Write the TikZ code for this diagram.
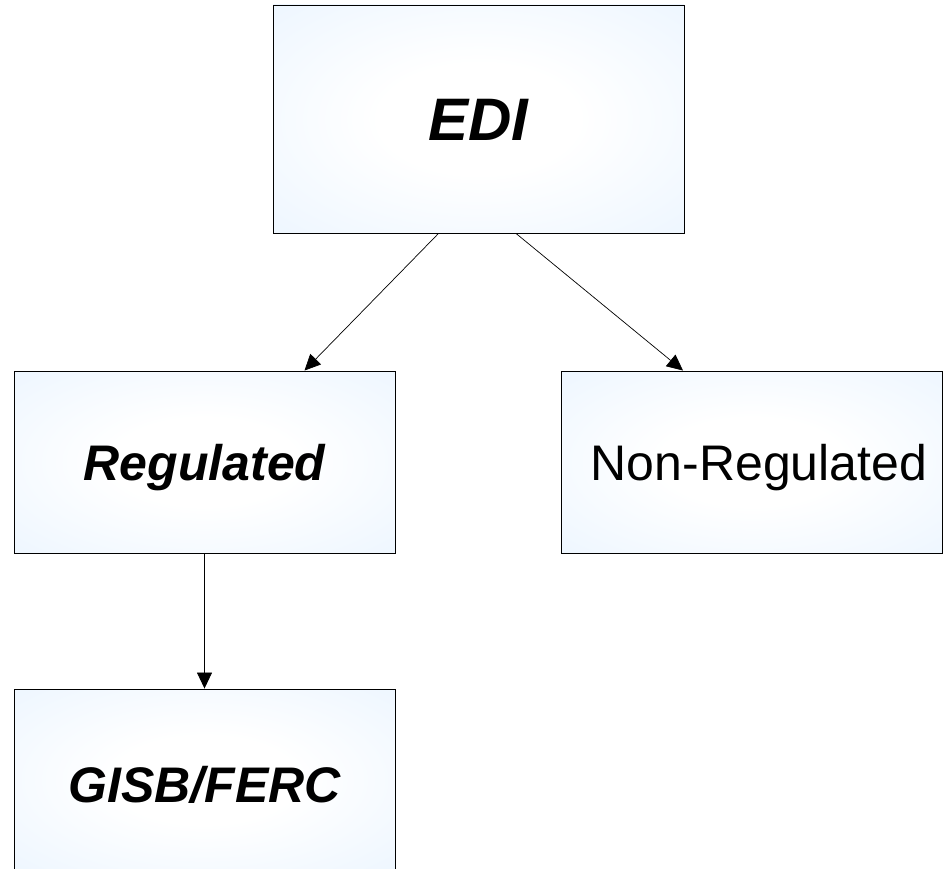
\documentclass[tikz,border=0pt]{standalone}
\usepackage{fontspec}
\setmainfont{Liberation Sans}
\usetikzlibrary{arrows.meta,calc}
\definecolor{edgeblue}{RGB}{212,233,255}
\pgfdeclareradialshading{boxshade}{\pgfpoint{0bp}{0bp}}{color(0bp)=(white); color(12bp)=(white); color(71bp)=(edgeblue)}
\tikzset{
  box/.style={draw=black, line width=0.9pt, shading=boxshade, rectangle, inner sep=0pt, minimum width=381pt, minimum height=182pt, text depth=0pt, text height=36pt},
  conn/.style={line width=0.7pt, -{Triangle[length=16pt,width=15pt]}},
  bigt/.style={font=\fontsize{60}{72}\selectfont\bfseries\itshape, text height=43pt},
  midt/.style={font=\fontsize{50}{60}\selectfont\bfseries\itshape},
  plaint/.style={font=\fontsize{50}{60}\selectfont}
}
\begin{document}
\begin{tikzpicture}[x=1pt,y=-1pt]
\useasboundingbox (0,0) rectangle (943,869);
\node[box, minimum width=411pt, minimum height=228pt, bigt] (edi) at (478.5,119) {EDI};
\node[box, midt] (reg) at (204.5,462) {Regulated};
\node[box, plaint] (non) at (752,462) {\hspace*{14pt}Non-Regulated};
\node[box, midt, text height=44pt] (gisb) at (204.5,780) {GISB/FERC};
\draw[conn] ($(edi.south)+(-40,0)$) -- ($(reg.north)+(100,0)$);
\draw[conn] ($(edi.south)+(37.5,0)$) -- ($(non.north)+(-69,0)$);
\draw[conn] (reg.south) -- (gisb.north);
\end{tikzpicture}
\end{document}
